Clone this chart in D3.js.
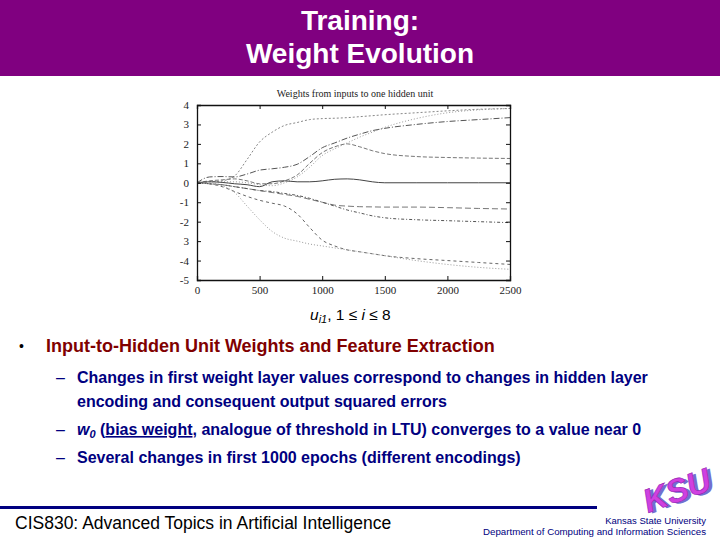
<!DOCTYPE html>
<html>
<head>
<meta charset="utf-8">
<script src="https://cdn.jsdelivr.net/npm/d3@7"></script>
<style>
  body { margin: 0; background: #fff; }
  svg { display: block; }
</style>
</head>
<body>
<div id="root"></div>
<script>
// data
const epochs = [0, 100, 200, 300, 400, 500, 600, 700, 800, 900, 1000, 1100, 1200, 1300, 1400, 1500, 1750, 2000, 2250, 2500];
const w1 = [0, 0.05, 0.1, 0.35, 1.2, 2.1, 2.6, 2.95, 3.1, 3.25, 3.3, 3.32, 3.35, 3.4, 3.45, 3.5, 3.6, 3.7, 3.78, 3.82];
const w2 = [0, 0.3, 0.32, 0.3, 0.45, 0.65, 0.72, 0.8, 0.95, 1.35, 1.8, 2.05, 2.3, 2.5, 2.68, 2.8, 3.0, 3.15, 3.25, 3.35];
const w3 = [0, 0.1, 0.15, 0.2, 0.1, -0.05, -0.05, 0.1, 0.4, 1.0, 1.55, 1.85, 2.0, 1.85, 1.65, 1.5, 1.35, 1.3, 1.27, 1.25];
const w4 = [0, 0.05, 0.05, 0.05, 0, -0.1, -0.15, 0, 0.3, 0.8, 1.4, 1.75, 2.05, 2.35, 2.6, 2.85, 3.3, 3.6, 3.75, 3.82];
const w0 = [0, 0.05, 0.02, -0.05, -0.1, -0.2, 0.05, 0.1, 0.05, 0.05, 0.1, 0.18, 0.2, 0.15, 0.05, 0, 0, 0, 0, 0];
const w5 = [0, -0.05, -0.1, -0.2, -0.3, -0.4, -0.5, -0.6, -0.7, -0.85, -1.0, -1.15, -1.2, -1.23, -1.24, -1.25, -1.25, -1.28, -1.32, -1.35];
const w6 = [0, -0.05, -0.1, -0.2, -0.3, -0.4, -0.45, -0.55, -0.65, -0.8, -1.0, -1.2, -1.4, -1.55, -1.7, -1.8, -1.9, -1.95, -2.0, -2.05];
const w7 = [0, -0.05, -0.2, -0.45, -0.7, -0.9, -1.05, -1.2, -1.6, -2.3, -2.95, -3.25, -3.45, -3.55, -3.65, -3.75, -3.9, -4.0, -4.1, -4.2];
const w8 = [0, -0.05, -0.15, -0.5, -1.2, -1.9, -2.5, -2.85, -3.0, -3.15, -3.25, -3.35, -3.45, -3.55, -3.65, -3.75, -4.0, -4.2, -4.35, -4.45];
const series = [w1, w2, w3, w4, w0, w5, w6, w7, w8];
const xTicks = [0, 500, 1000, 1500, 2000, 2500];
const yTicks = [4, 3, 2, 1, 0, -1, -2, -3, -4, -5];
const yTickLabels = ["4", "3", "2", "1", "0", "-1", "-2", "3", "-4", "-5"];

const bullets = [
  {y: 383, lines: ["Changes in first weight layer values correspond to changes in hidden layer", "encoding and consequent output squared errors"]},
  {y: 435, w0: true},
  {y: 463, lines: ["Several changes in first 1000 epochs (different encodings)"]}
];

const W = 720, H = 540;
const svg = d3.select("#root").append("svg")
    .attr("width", W)
    .attr("height", H)
    .style("font-family", "Arial, 'Liberation Sans', sans-serif");

// title banner
svg.append("rect")
    .attr("x", 0).attr("y", 0)
    .attr("width", W).attr("height", 76)
    .attr("fill", "#800080");

["Training:", "Weight Evolution"].forEach((s, i) => {
  svg.append("text")
      .attr("x", 360).attr("y", 30 + i * 33)
      .attr("text-anchor", "middle")
      .attr("fill", "#fff")
      .attr("font-weight", "bold")
      .attr("font-size", 28)
      .text(s);
});

// plot
const x = d3.scaleLinear().domain([0, 2500]).range([197, 510]);
const y = d3.scaleLinear().domain([-5, 4]).range([280, 105]);

const plot = svg.append("g").style("font-family", "'Liberation Serif', 'DejaVu Serif', serif");

plot.append("text")
    .attr("x", 355).attr("y", 97)
    .attr("text-anchor", "middle")
    .attr("font-size", 10)
    .attr("fill", "#222")
    .text("Weights from inputs to one hidden unit");

const styles = [
  {c: "#888", d: "2,2"},
  {c: "#555", d: "6,2,1,2"},
  {c: "#777", d: "4,2"},
  {c: "#999", d: "1,2"},
  {c: "#444", d: null},
  {c: "#777", d: "6,3"},
  {c: "#555", d: "3,2,1,2"},
  {c: "#666", d: "3,3"},
  {c: "#999", d: "1,2"}
];

const line = d3.line()
    .x((d, i) => x(epochs[i]))
    .y(d => y(d))
    .curve(d3.curveMonotoneX);

plot.selectAll(".wline")
    .data(series)
    .enter().append("path")
    .attr("class", "wline")
    .attr("fill", "none")
    .attr("stroke", (d, i) => styles[i].c)
    .attr("stroke-width", 1)
    .attr("stroke-dasharray", (d, i) => styles[i].d)
    .attr("d", line);

// axes, ticks pointing inward on all four sides
const fmtY = d => yTickLabels[yTicks.indexOf(d)];
const axes = [
  d3.axisBottom(x).tickValues(xTicks).tickSize(-4).tickPadding(6).tickFormat(d3.format("d")),
  d3.axisTop(x).tickValues(xTicks).tickSize(-4).tickFormat(""),
  d3.axisLeft(y).tickValues(yTicks).tickSize(-4).tickPadding(8).tickFormat(fmtY),
  d3.axisRight(y).tickValues(yTicks).tickSize(-4).tickFormat("")
];
const shifts = ["translate(0,280)", "translate(0,105)", "translate(197,0)", "translate(510,0)"];
axes.forEach((ax, i) => {
  const g = plot.append("g")
      .attr("transform", shifts[i])
      .call(ax);
  g.select(".domain").attr("stroke", "#111").attr("stroke-width", 1.3);
  g.selectAll(".tick line").attr("stroke", "#111");
  g.selectAll(".tick text").attr("font-size", 11).attr("fill", "#222")
      .style("font-family", "'Liberation Serif', serif");
});

// caption under plot
const cap = svg.append("text")
    .attr("x", 310).attr("y", 320)
    .attr("font-size", 15.5)
    .attr("fill", "#000");
cap.append("tspan").attr("font-style", "italic").text("u");
cap.append("tspan").attr("font-style", "italic").attr("font-size", 11).attr("dy", 3).text("i1");
cap.append("tspan").attr("dy", -3).text(", 1 \u2264 ");
cap.append("tspan").attr("font-style", "italic").text("i");
cap.append("tspan").text(" \u2264 8");

// bullets
svg.append("text")
    .attr("x", 19).attr("y", 351)
    .attr("font-size", 14)
    .text("\u2022");
svg.append("text")
    .attr("x", 46).attr("y", 352)
    .attr("font-size", 18)
    .attr("font-weight", "bold")
    .attr("fill", "#800000")
    .text("Input-to-Hidden Unit Weights and Feature Extraction");

bullets.forEach(b => {
  svg.append("text")
      .attr("x", 56).attr("y", b.y)
      .attr("font-size", 16)
      .attr("fill", "#000080")
      .text("\u2013");
  if (b.w0) {
    const t = svg.append("text")
        .attr("x", 77).attr("y", b.y)
        .attr("font-size", 16)
        .attr("font-weight", "bold")
        .attr("fill", "#000080");
    t.append("tspan").attr("font-style", "italic").text("w");
    t.append("tspan").attr("font-style", "italic").attr("font-size", 11).attr("dy", 3).text("0");
    t.append("tspan").attr("dy", -3).text(" (");
    t.append("tspan").attr("text-decoration", "underline").text("bias weight");
    t.append("tspan").text(", analogue of threshold in LTU) converges to a value near 0");
  } else {
    b.lines.forEach((s, i) => {
      svg.append("text")
          .attr("x", 77).attr("y", b.y + i * 24)
          .attr("font-size", 16)
          .attr("font-weight", "bold")
          .attr("fill", "#000080")
          .text(s);
    });
  }
});

// footer
svg.append("rect")
    .attr("x", 0).attr("y", 506)
    .attr("width", 597).attr("height", 3)
    .attr("fill", "#000080");
svg.append("text")
    .attr("x", 15).attr("y", 529)
    .attr("font-size", 17.5)
    .attr("fill", "#000")
    .text("CIS830: Advanced Topics in Artificial Intelligence");
svg.append("text")
    .attr("x", 706).attr("y", 524)
    .attr("text-anchor", "end")
    .attr("font-size", 9.5)
    .attr("fill", "#000080")
    .text("Kansas State University");
svg.append("text")
    .attr("x", 706).attr("y", 535)
    .attr("text-anchor", "end")
    .attr("font-size", 9.7)
    .attr("fill", "#000080")
    .text("Department of Computing and Information Sciences");

// KSU logo
const logo = svg.append("g").attr("transform", "translate(648,513) rotate(-20)");
logo.append("text")
    .attr("x", 3).attr("y", 2)
    .attr("font-size", 33)
    .attr("font-weight", "bold")
    .attr("font-style", "italic")
    .attr("fill", "#7070d0")
    .text("KSU");
logo.append("text")
    .attr("x", 0).attr("y", 0)
    .attr("font-size", 33)
    .attr("font-weight", "bold")
    .attr("font-style", "italic")
    .attr("fill", "#d040e0")
    .attr("stroke", "#9020b0")
    .attr("stroke-width", 0.6)
    .text("KSU");
</script>
</body>
</html>
